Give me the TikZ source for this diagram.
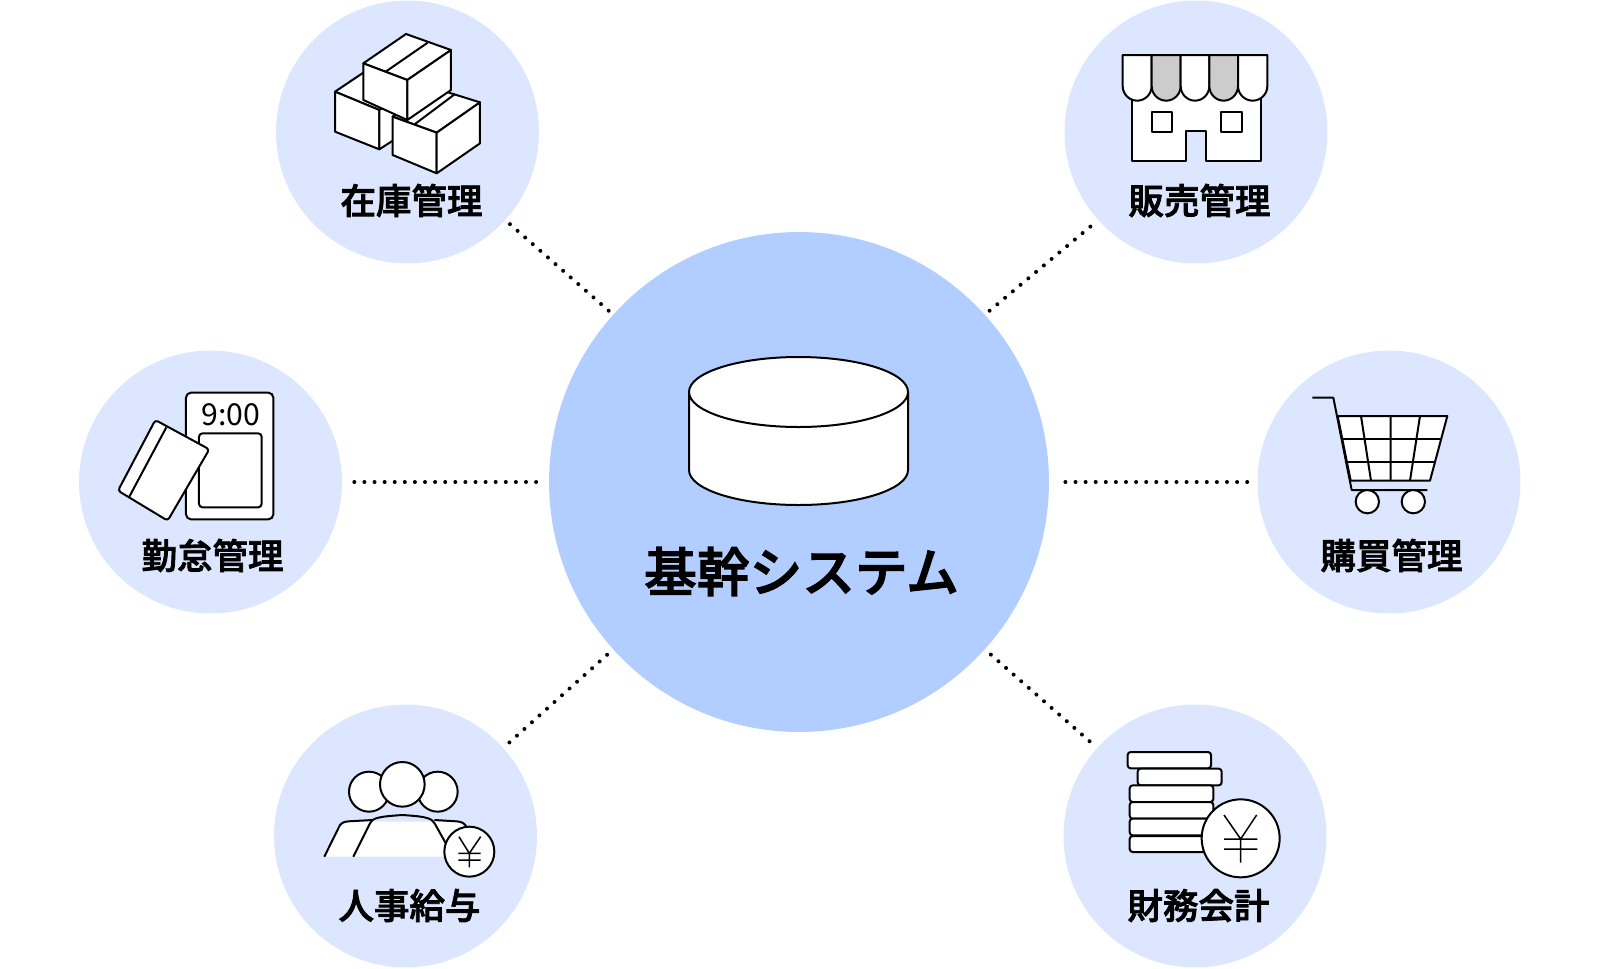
\documentclass[tikz,border=0pt]{standalone}
\usepackage{fontspec}
\setmainfont{Noto Sans CJK JP}
\newfontfamily\cjk[FakeBold=2.2]{Noto Sans CJK JP Medium}
\definecolor{paleblue}{RGB}{220,231,255}
\definecolor{midblue}{RGB}{178,205,255}
\definecolor{shade}{RGB}{204,204,204}

\begin{document}
\begin{tikzpicture}[x=0.02cm,y=-0.02cm]
        \tikzstyle{unit}=[circle,fill=paleblue,draw=none,minimum size=5.26cm,inner sep=0pt]
        \tikzstyle{core}=[circle,fill=midblue,draw=none,minimum size=10cm,inner sep=0pt]
        \tikzstyle{lab}=[font=\cjk\fontsize{20.2}{24}\selectfont,inner sep=0pt]
        \tikzstyle{link}=[line width=0.08cm,line cap=round,dash pattern=on 0pt off 0.202cm]
        \tikzstyle{ink}=[draw=black,fill=white,line width=0.04cm,line join=round]
        \tikzstyle{thin}=[draw=black,line width=0.03cm]
        \tikzstyle{icon}=[x=0.02cm/3,y=-0.02cm/3]

        \useasboundingbox (0,0) rectangle (1600,968);

        \node[core] (kikan) at (799,482) {};
        \node[unit] (zaiko) at (407.5,132) {};
        \node[unit] (hanbai) at (1196,132) {};
        \node[unit] (kintai) at (210.5,482) {};
        \node[unit] (kobai) at (1389,482) {};
        \node[unit] (jinji) at (405.5,836) {};
        \node[unit] (zaimu) at (1195,836) {};

        \draw[link,shorten <=0.12cm,shorten >=0.1cm] (zaiko.-42) -- (kikan.138);
        \draw[link,shorten <=0.2cm,shorten >=0.02cm] (hanbai.222) -- (kikan.42);
        \draw[link,shorten <=0.24cm,shorten >=0.24cm] (kintai.east) -- (kikan.west);
        \draw[link,shorten <=0.2cm,shorten >=0.3cm] (kobai.west) -- (kikan.east);
        \draw[link,shorten <=0.16cm,shorten >=0.02cm] (jinji.42) -- (kikan.222);
        \draw[link,shorten <=0.2cm,shorten >=0.02cm] (zaimu.138) -- (kikan.-42);

        % database
        \draw[ink] (689,392) -- (689,470) arc[start angle=180,end angle=0,x radius=109.5,y radius=35]
                -- (908,392);
        \draw[ink] (798.5,392) ellipse [x radius=109.5,y radius=35];
        \node[lab,font=\cjk\fontsize{30}{36}\selectfont] (kikanlab) at (801.5,571.5) {基幹システム};

        % boxes
        \begin{scope}[shift={(320,20)},icon]
                \draw[ink] (45,215) -- (130,158) -- (260,215) -- (178,270) -- cycle;
                \draw[ink] (45,215) -- (178,270) -- (178,388) -- (45,335) -- cycle;
                \draw[ink] (178,270) -- (260,215) -- (260,335) -- (178,388) -- cycle;
                \draw[ink] (218,290) -- (345,205) -- (480,247) -- (350,338) -- cycle;
                \draw[ink] (218,290) -- (350,338) -- (350,460) -- (218,405) -- cycle;
                \draw[ink] (350,338) -- (480,247) -- (480,370) -- (350,460) -- cycle;
                \draw[ink] (285,312) -- (405,222);
                \draw[ink] (130,130) -- (258,42) -- (393,90) -- (262,180) -- cycle;
                \draw[ink] (130,130) -- (262,180) -- (262,300) -- (130,240) -- cycle;
                \draw[ink] (262,180) -- (393,90) -- (393,210) -- (262,300) -- cycle;
                \draw[ink] (197,155) -- (323,68);
        \end{scope}

        % shop
        \begin{scope}[shift={(1110,40)},icon]
                \draw[ink] (67,150) -- (67,362) -- (228,362) -- (228,272) -- (287,272) -- (287,362)
                        -- (452,362) -- (452,150);
                \draw[ink] (125,216) rectangle (187,277);
                \draw[ink] (334,216) rectangle (396,277);
                \foreach \xa/\xb/\col in {38/125/white,125/212/shade,212/298/white,298/384/shade,384/472/white}
                        \draw[ink,fill=\col] (\xa,45) -- (\xa,138) arc[start angle=180,end angle=0,x radius={(\xb-\xa)/2},y radius=44] -- (\xb,45) -- cycle;
        \end{scope}

        % time card
        \begin{scope}[shift={(105,380)},icon]
                \draw[ink,rounded corners=0.1cm] (243,38) rectangle (505,418);
                \draw[ink,rounded corners=0.07cm] (282,160) rectangle (470,382);
                \node[inner sep=0pt,font=\fontsize{17.2}{18}\selectfont] (clock) at (378,104) {9:00};
                \draw[ink,rounded corners=0.06cm] (151,120) -- (313,208) -- (188,422) -- (39,332) -- cycle;
                \draw[ink] (184,142) -- (73,350);
        \end{scope}

        % cart
        \begin{scope}[shift={(1300,385)},icon]
                \draw[ink,fill=none] (37,38) -- (100,38) -- (155,315) -- (382,315);
                \draw[ink] (113,93) -- (442,93) -- (390,287) -- (152,287) -- cycle;
                \draw[ink] (183,93) -- (213,287) (272,93) -- (272,287) (360,93) -- (330,287);
                \draw[ink] (127,163) -- (423,163) (140,230) -- (405,230);
                \draw[ink] (202,350) circle (35);
                \draw[ink] (340,350) circle (35);
        \end{scope}

        % staff
        \begin{scope}[shift={(315,750)},icon]
                \fill[white] (28,320) -- (75,225) -- (95,215) -- (430,215) -- (455,235) -- (440,320) -- cycle;
                \draw[ink,fill=none] (28,320) -- (70,235) .. controls (75,220) and (85,215) .. (100,214) -- (172,210);
                \draw[ink,fill=none] (358,210) -- (425,214) .. controls (440,215) and (450,220) .. (455,232);
                \draw[ink,fill=none] (115,320) -- (165,220) .. controls (172,205) and (185,200) .. (262,195)
                        .. controls (340,200) and (350,205) .. (360,222) -- (398,290);
                \draw[ink] (162,125) circle (60);
                \draw[ink] (368,125) circle (60);
                \draw[ink] (262,103) circle (67);
                \draw[ink] (463,305) circle (75);
                \draw[thin] (432,260) -- (463,310) -- (497,260) (463,310) -- (463,352)
                        (430,310) -- (497,310) (430,330) -- (497,330);
        \end{scope}

        % coins
        \begin{scope}[shift={(1115,740)},icon]
                \foreach \xa/\ya/\xb/\yb in {38/36/288/85,68/86/320/136,44/136/295/186,44/186/295/236,44/236/295/286,44/288/295/336}
                        \draw[ink,rounded corners=0.06cm] (\xa,\ya) rectangle (\xb,\yb);
                \draw[ink] (377,295) circle (117);
                \draw[thin] (327,225) -- (377,297) -- (425,225) (377,297) -- (377,368)
                        (327,297) -- (427,297) (327,327) -- (427,327);
        \end{scope}

        \node[lab] (zaikolab) at (411.5,200.5) {在庫管理};
        \node[lab] (hanbailab) at (1199.5,200.5) {販売管理};
        \node[lab] (kintailab) at (212.5,555.5) {勤怠管理};
        \node[lab] (kobailab) at (1391.5,555.5) {購買管理};
        \node[lab] (jinjilab) at (409.5,905.5) {人事給与};
        \node[lab] (zaimulab) at (1198.5,905.5) {財務会計};
\end{tikzpicture}
\end{document}
